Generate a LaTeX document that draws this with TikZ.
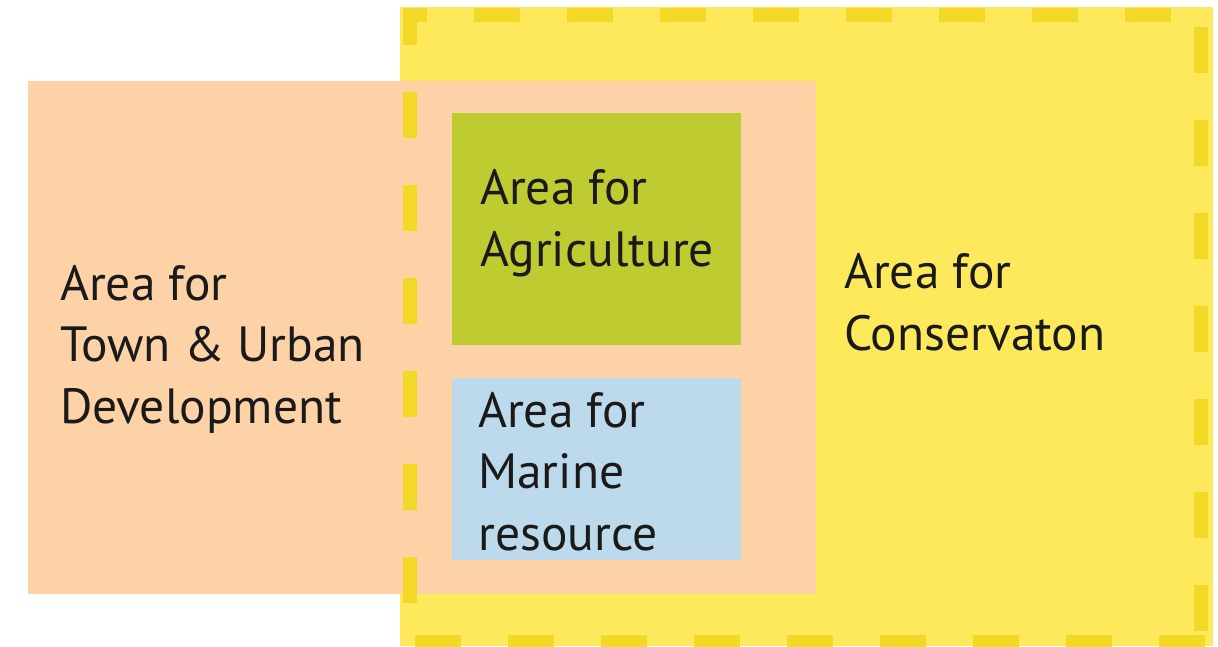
\documentclass[tikz,border=0pt]{standalone}
\usepackage{fontspec}
\setmainfont{PT Sans}
\definecolor{consfill}{HTML}{FEE95C}
\definecolor{consdash}{HTML}{F3D826}
\definecolor{townfill}{HTML}{FCD2A6}
\definecolor{agrifill}{HTML}{BECC32}
\definecolor{marinefill}{HTML}{BDDAEC}
\definecolor{labeltext}{HTML}{1A1A1A}
\tikzset{
  zonelabel/.style={inner sep=0pt, anchor=base west, align=left, text=labeltext,
    font=\fontsize{49.5}{61.5}\selectfont},
  consline/.style={draw=consdash, line width=14pt, line cap=butt,
    dash pattern=on 46pt off 47pt}
}
\begin{document}
\begin{tikzpicture}[x=1pt,y=-1pt]
\fill[white] (0,0) rectangle (1218,646);
\useasboundingbox (0,0) rectangle (1218,646);
% conservation area
\fill[consfill] (400,7) rectangle (1213,646);
% town area
\fill[townfill] (28,81) rectangle (816,594);
% agriculture and marine
\fill[agrifill] (452,113) rectangle (741,345);
\fill[marinefill] (452,378) rectangle (741,560);
% dashed border of the conservation area
\coordinate (tl) at (403,15);
\coordinate (tr) at (1208,15);
\coordinate (lt) at (410,8);
\coordinate (lb) at (410,646);
\coordinate (rt) at (1201,8);
\coordinate (rb) at (1201,646);
\coordinate (bl) at (403,642);
\coordinate (br) at (1208,642);
\draw[consline, dash phase=22pt] (tl) -- (tr);
\draw[consline, dash phase=9pt] (lt) -- (lb);
\draw[consline, dash phase=74pt] (rt) -- (rb);
\draw[consline, dash phase=81pt] (bl) -- (br);
% labels (anchored at the baseline of the last line)
\node[zonelabel] (town) at (60,423) {Area for\\Town \& Urban\\Development};
\node[zonelabel] (agri) at (480,266) {Area for\\Agriculture};
\node[zonelabel] (marine) at (478,550) {Area for\\Marine\\resource};
\node[zonelabel] (cons) at (844,350) {Area for\\Conservaton};
\end{tikzpicture}
\end{document}
